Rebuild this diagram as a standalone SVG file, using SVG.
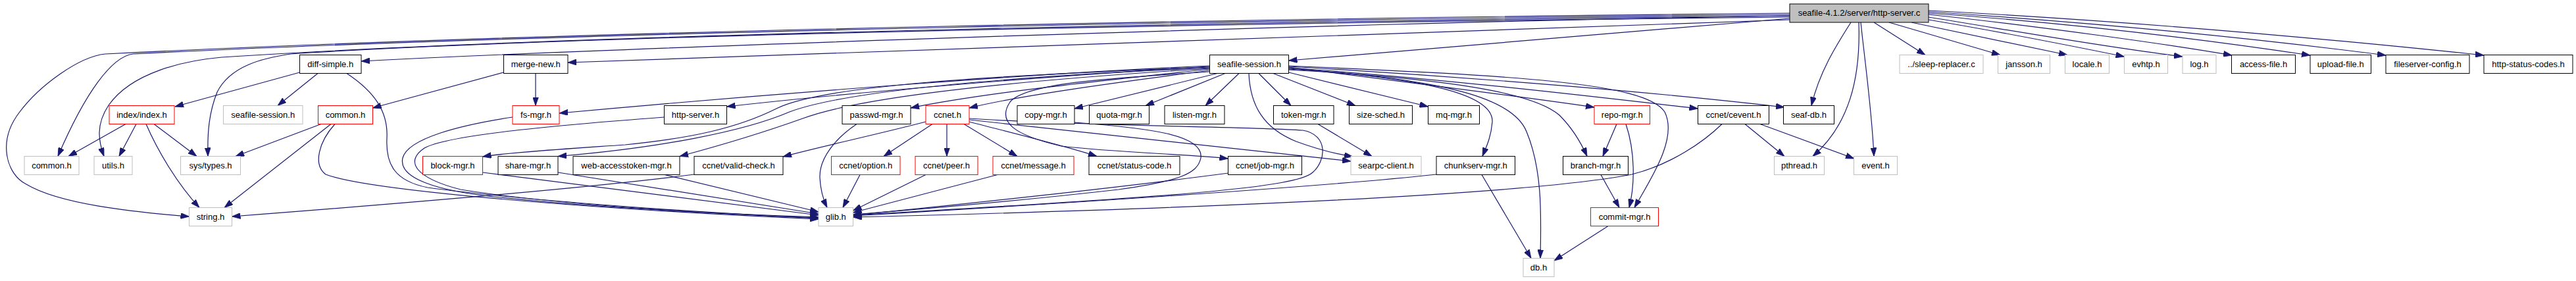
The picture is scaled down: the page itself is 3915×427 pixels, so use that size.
<svg xmlns="http://www.w3.org/2000/svg" width="3915" height="427" viewBox="0 0 3915 427">
<style>
.node rect{fill:#ffffff;stroke-width:1}
.blk rect{stroke:#000000}
.red rect{stroke:#ff0000}
.gry rect{stroke:#bfbfbf}
.top rect{fill:#bfbfbf;stroke:#000000}
.node text{font-family:"Liberation Sans",Arial,Helvetica,sans-serif;font-size:13px;fill:#000000;text-anchor:middle}
#edges path{fill:none;stroke:#191970;stroke-width:1.2;marker-end:url(#arr)}
</style>
<defs>
<marker id="arr" markerUnits="userSpaceOnUse" markerWidth="13" markerHeight="9" viewBox="0 0 13 9" refX="13" refY="4.5" orient="auto">
<path d="M0,0 L13,4.5 L0,9 z" fill="#191970" stroke="#191970" stroke-width="0.8"/>
</marker>
</defs>
<rect x="0" y="0" width="3915" height="427" fill="#ffffff"/>
<g id="edges">
<!-- from http-server.c -->
<path d="M2720,28 L1958.5,92"/>
<path d="M2720,30 C2000,52 1300,78 863,95"/>
<path d="M2720,24 C2000,35 900,75 549,93"/>
<path d="M2720,20 C2000,27 900,45 160,82 C120,86 60,130 30,170 C-5,215 10,265 40,280 C90,310 200,322 287.5,329"/>
<path d="M2720,22 C2000,29 900,47 202,82 C170,86 130,140 88,237.5"/>
<path d="M2720,24 C2000,31 900,50 337,87 C280,92 200,110 165,160 C145,190 150,215 158,237.5"/>
<path d="M2720,26 C2000,33 900,52 442,82 C400,88 350,100 330,140 C318,170 315,200 316,237.5"/>
<path d="M2813,34 C2790,70 2765,110 2753,160.5"/>
<path d="M2825,34 C2828,120 2810,190 2755,237.5"/>
<path d="M2828,34 C2835,100 2845,170 2848,237.5"/>
<path d="M2848,34 L2926,83.5"/>
<path d="M2871,34 L3040,83.5"/>
<path d="M2905,34 L3142,83.5"/>
<path d="M2931,30 C3050,50 3150,70 3228.5,86"/>
<path d="M2931,26 C3050,45 3200,72 3317,86"/>
<path d="M2931,22 C3100,40 3300,68 3392,84"/>
<path d="M2931,20 C3150,35 3350,60 3511,84"/>
<path d="M2931,18 C3150,32 3400,55 3626,84"/>
<path d="M2931,16 C3200,30 3500,55 3775,84"/>
<!-- from seafile-session.h -->
<path d="M1838.5,100 C1600,110 1200,140 850,172"/>
<path d="M1838.5,101 C1600,115 1300,140 1104.5,162"/>
<path d="M1838.5,102 C1500,115 1250,130 1180,165 C1120,195 1050,210 950,220 C850,227 770,232 733.5,238"/>
<path d="M1838.5,103 C1500,118 1280,140 1200,170 C1130,200 1000,225 848,237.5"/>
<path d="M1838.5,104 C1500,125 1300,150 1220,180 C1150,205 1080,225 1033,237.5"/>
<path d="M1838.5,105 C1700,120 1500,140 1384,164"/>
<path d="M1838.5,107 C1700,125 1550,145 1473,164"/>
<path d="M1850,111.5 L1633,165"/>
<path d="M1862,111.5 L1741,160.5"/>
<path d="M1883,111.5 L1832,160.5"/>
<path d="M1838.5,109 C1700,118 1560,125 1535,155 C1515,185 1540,205 1613,222 C1700,232 1800,234 1866.5,241"/>
<path d="M1913,111.5 L1962,160.5"/>
<path d="M1935,111.5 L2060,160.5"/>
<path d="M1958.5,110 L2170.5,162"/>
<path d="M1958.5,102 C2100,120 2300,145 2423,163"/>
<path d="M1898,111.5 C1900,160 1920,195 1970,215 C2000,226 2030,234 2056,238"/>
<path d="M1958.5,104 C2150,118 2270,140 2268,185 C2266,210 2258,225 2253,237.5"/>
<path d="M1958.5,105 C2200,120 2300,150 2320,200 C2345,260 2342,330 2341,392.5"/>
<path d="M1958.5,106 C2200,120 2330,140 2370,175 C2390,195 2402,215 2412,237.5"/>
<path d="M1958.5,100 C2300,115 2500,125 2530,170 C2550,210 2510,270 2484,315.5"/>
<path d="M1958.5,101 C2200,115 2500,138 2712,163"/>
<path d="M1958.5,103 C2200,120 2450,150 2580.5,165"/>
<!-- from ccnet.h -->
<path d="M1417,188.5 L1343,237.5"/>
<path d="M1439,188.5 L1439,237.5"/>
<path d="M1465,188.5 L1546,237.5"/>
<path d="M1473,185 C1550,205 1620,222 1667,237.5"/>
<path d="M1473,182 C1700,205 1900,228 2053,245"/>
<path d="M1473,180 C1650,192 1900,192 1980,198 C2020,205 2015,245 1995,262 C1970,285 1800,298 1296.5,327"/>
<path d="M1407,185 C1330,205 1250,222 1190,238"/>
<!-- into glib.h -->
<path d="M1302,188.5 C1270,210 1245,240 1246,270 C1247,290 1252,305 1257,315.5"/>
<path d="M1307,265.5 L1281,315.5"/>
<path d="M1407,265.5 L1296.5,320"/>
<path d="M1516,265.5 L1296.5,323"/>
<path d="M1867,263 C1700,285 1450,312 1296.5,327"/>
<path d="M1633,186 C1750,195 1830,205 1825,240 C1820,265 1790,275 1700,288 C1550,305 1400,318 1296.5,326"/>
<path d="M2183,265 C2000,285 1600,310 1296.5,328"/>
<path d="M2617,188.5 C2590,215 2540,250 2480,265 C2300,300 1700,320 1296.5,330"/>
<path d="M1010,265.5 L1244,322"/>
<path d="M848,262 L1244,325"/>
<path d="M733.5,262 L1244,327"/>
<path d="M779,178 C700,190 620,210 612,240 C605,270 660,290 760,300 C900,315 1100,325 1244,330"/>
<path d="M1009.5,178 C850,190 680,205 645,225 C615,245 630,270 700,288 C850,312 1100,326 1244,331"/>
<path d="M527,111.5 C570,140 590,170 588,210 C586,250 600,275 650,285 C800,305 1050,322 1244,332"/>
<path d="M509,188.5 C485,215 475,250 495,265 C560,290 900,318 1244,333"/>
<!-- left cluster -->
<path d="M488,188.5 L358,237.5"/>
<path d="M503,188.5 L341,315.5"/>
<path d="M765.5,110 L566.5,164"/>
<path d="M814,111.5 L814,160.5"/>
<path d="M1055,265 C900,285 600,310 352.5,329"/>
<path d="M455.5,110 L266,162"/>
<path d="M483,111.5 L422,160.5"/>
<path d="M191,188.5 L104,237.5"/>
<path d="M207,188.5 L181,237.5"/>
<path d="M222,188.5 C240,230 270,280 303,315.5"/>
<path d="M234,188.5 L299,237.5"/>
<!-- right cluster -->
<path d="M2003,188.5 L2085,237.5"/>
<path d="M2457,188.5 L2436,237.5"/>
<path d="M2471,188.5 C2485,230 2485,280 2476,315.5"/>
<path d="M2433,265.5 L2461,315.5"/>
<path d="M2444,343.5 L2362,396"/>
<path d="M2252,265.5 L2327,392.5"/>
<path d="M2652,188.5 L2712,237.5"/>
<path d="M2675,188.5 L2818,241"/>
</g>
<g id="n_top" class="node top"><rect x="2720" y="6" width="211" height="28"/><text x="2825.5" y="24">seafile-4.1.2/server/http-server.c</text></g>
<g id="n_diff" class="node blk"><rect x="455.5" y="83.5" width="93.5" height="28"/><text x="502.25" y="101.5">diff-simple.h</text></g>
<g id="n_merge" class="node blk"><rect x="765.5" y="83.5" width="97.5" height="28"/><text x="814.25" y="101.5">merge-new.h</text></g>
<g id="n_sess" class="node blk"><rect x="1838.5" y="83.5" width="120" height="28"/><text x="1898.5" y="101.5">seafile-session.h</text></g>
<g id="n_sleep" class="node gry"><rect x="2887" y="83.5" width="127" height="28"/><text x="2950.5" y="101.5">../sleep-replacer.c</text></g>
<g id="n_jansson" class="node gry"><rect x="3036.5" y="83.5" width="79" height="28"/><text x="3076" y="101.5">jansson.h</text></g>
<g id="n_locale" class="node gry"><rect x="3138.5" y="83.5" width="67" height="28"/><text x="3172" y="101.5">locale.h</text></g>
<g id="n_evhtp" class="node gry"><rect x="3228.5" y="83.5" width="66" height="28"/><text x="3261.5" y="101.5">evhtp.h</text></g>
<g id="n_log" class="node gry"><rect x="3317" y="83.5" width="51" height="28"/><text x="3342.5" y="101.5">log.h</text></g>
<g id="n_access" class="node blk"><rect x="3391.5" y="83.5" width="97" height="28"/><text x="3440" y="101.5">access-file.h</text></g>
<g id="n_upload" class="node blk"><rect x="3511" y="83.5" width="92.5" height="28"/><text x="3557.25" y="101.5">upload-file.h</text></g>
<g id="n_fsconf" class="node blk"><rect x="3626" y="83.5" width="127" height="28"/><text x="3689.5" y="101.5">fileserver-config.h</text></g>
<g id="n_hsc" class="node blk"><rect x="3775" y="83.5" width="135" height="28"/><text x="3842.5" y="101.5">http-status-codes.h</text></g>
<g id="n_index" class="node red"><rect x="166" y="160.5" width="99" height="28"/><text x="215.5" y="178.5">index/index.h</text></g>
<g id="n_sessG" class="node gry"><rect x="339.5" y="160.5" width="120.5" height="28"/><text x="399.75" y="178.5">seafile-session.h</text></g>
<g id="n_commonR" class="node red"><rect x="483.5" y="160.5" width="83" height="28"/><text x="525" y="178.5">common.h</text></g>
<g id="n_fsmgr" class="node red"><rect x="779" y="160.5" width="71" height="28"/><text x="814.5" y="178.5">fs-mgr.h</text></g>
<g id="n_hsh" class="node blk"><rect x="1009.5" y="160.5" width="95" height="28"/><text x="1057" y="178.5">http-server.h</text></g>
<g id="n_passwd" class="node blk"><rect x="1280" y="160.5" width="104" height="28"/><text x="1332" y="178.5">passwd-mgr.h</text></g>
<g id="n_ccnet" class="node red"><rect x="1407" y="160.5" width="66" height="28"/><text x="1440" y="178.5">ccnet.h</text></g>
<g id="n_copy" class="node blk"><rect x="1546" y="160.5" width="87" height="28"/><text x="1589.5" y="178.5">copy-mgr.h</text></g>
<g id="n_quota" class="node blk"><rect x="1655.5" y="160.5" width="91" height="28"/><text x="1701" y="178.5">quota-mgr.h</text></g>
<g id="n_listen" class="node blk"><rect x="1770" y="160.5" width="91" height="28"/><text x="1815.5" y="178.5">listen-mgr.h</text></g>
<g id="n_token" class="node blk"><rect x="1935.5" y="160.5" width="91.5" height="28"/><text x="1981.25" y="178.5">token-mgr.h</text></g>
<g id="n_sizes" class="node blk"><rect x="2050.5" y="160.5" width="96" height="28"/><text x="2098.5" y="178.5">size-sched.h</text></g>
<g id="n_mq" class="node blk"><rect x="2170.5" y="160.5" width="78" height="28"/><text x="2209.5" y="178.5">mq-mgr.h</text></g>
<g id="n_repo" class="node red"><rect x="2423" y="160.5" width="84.5" height="28"/><text x="2465.25" y="178.5">repo-mgr.h</text></g>
<g id="n_cevent" class="node blk"><rect x="2580.5" y="160.5" width="108" height="28"/><text x="2634.5" y="178.5">ccnet/cevent.h</text></g>
<g id="n_seafdb" class="node blk"><rect x="2710.5" y="160.5" width="77" height="28"/><text x="2749" y="178.5">seaf-db.h</text></g>
<g id="n_commonG" class="node gry"><rect x="37" y="237.5" width="83" height="28"/><text x="78.5" y="255.5">common.h</text></g>
<g id="n_utils" class="node gry"><rect x="143" y="237.5" width="58" height="28"/><text x="172" y="255.5">utils.h</text></g>
<g id="n_systypes" class="node gry"><rect x="274.5" y="237.5" width="91" height="28"/><text x="320" y="255.5">sys/types.h</text></g>
<g id="n_block" class="node red"><rect x="642.5" y="237.5" width="91" height="28"/><text x="688" y="255.5">block-mgr.h</text></g>
<g id="n_share" class="node blk"><rect x="757" y="237.5" width="91" height="28"/><text x="802.5" y="255.5">share-mgr.h</text></g>
<g id="n_webat" class="node blk"><rect x="871" y="237.5" width="162" height="28"/><text x="952" y="255.5">web-accesstoken-mgr.h</text></g>
<g id="n_valid" class="node blk"><rect x="1055" y="237.5" width="135" height="28"/><text x="1122.5" y="255.5">ccnet/valid-check.h</text></g>
<g id="n_option" class="node red"><rect x="1263.5" y="237.5" width="104.5" height="28"/><text x="1315.75" y="255.5">ccnet/option.h</text></g>
<g id="n_peer" class="node red"><rect x="1391" y="237.5" width="95" height="28"/><text x="1438.5" y="255.5">ccnet/peer.h</text></g>
<g id="n_message" class="node red"><rect x="1509" y="237.5" width="123" height="28"/><text x="1570.5" y="255.5">ccnet/message.h</text></g>
<g id="n_status" class="node blk"><rect x="1655" y="237.5" width="138" height="28"/><text x="1724" y="255.5">ccnet/status-code.h</text></g>
<g id="n_jobmgr" class="node blk"><rect x="1866.5" y="237.5" width="112" height="28"/><text x="1922.5" y="255.5">ccnet/job-mgr.h</text></g>
<g id="n_searpc" class="node gry"><rect x="2053" y="237.5" width="107" height="28"/><text x="2106.5" y="255.5">searpc-client.h</text></g>
<g id="n_chunk" class="node blk"><rect x="2183" y="237.5" width="119.5" height="28"/><text x="2242.75" y="255.5">chunkserv-mgr.h</text></g>
<g id="n_branch" class="node blk"><rect x="2375.5" y="237.5" width="99" height="28"/><text x="2425" y="255.5">branch-mgr.h</text></g>
<g id="n_pthread" class="node gry"><rect x="2696.5" y="237.5" width="76" height="28"/><text x="2734.5" y="255.5">pthread.h</text></g>
<g id="n_event" class="node gry"><rect x="2817.5" y="237.5" width="66" height="28"/><text x="2850.5" y="255.5">event.h</text></g>
<g id="n_string" class="node gry"><rect x="287.5" y="315.5" width="65" height="28"/><text x="320" y="333.5">string.h</text></g>
<g id="n_glib" class="node gry"><rect x="1244" y="315.5" width="52.5" height="28"/><text x="1270.25" y="333.5">glib.h</text></g>
<g id="n_commit" class="node red"><rect x="2417.5" y="315.5" width="103" height="28"/><text x="2469" y="333.5">commit-mgr.h</text></g>
<g id="n_db" class="node gry"><rect x="2315" y="392.5" width="47" height="28"/><text x="2338.5" y="410.5">db.h</text></g>
</svg>
